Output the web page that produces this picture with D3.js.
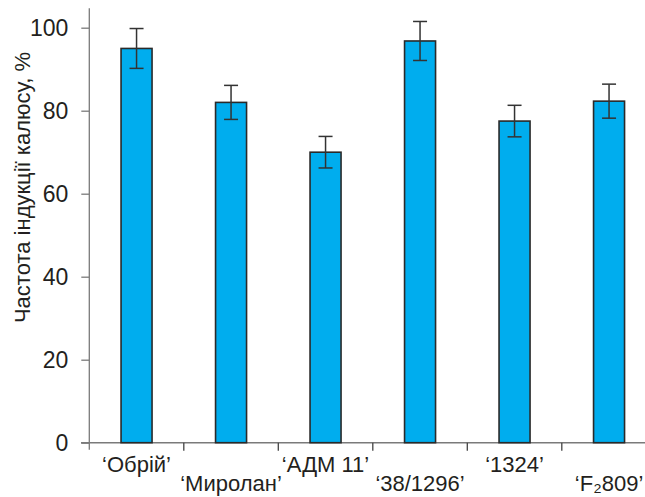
<!DOCTYPE html>
<html>
<head>
<meta charset="utf-8">
<script src="https://cdn.jsdelivr.net/npm/d3@7"></script>
<style>
html,body{margin:0;padding:0;background:#fff;}
text{font-family:"Liberation Sans",Arial,sans-serif;fill:#231f20;}
</style>
</head>
<body>
<svg id="chart" width="645" height="497"></svg>
<script>
const categories = ["‘Обрій’", "‘Миролан’", "‘АДМ 11’", "‘38/1296’", "‘1324’", "‘F₂809’"];
const values = [95, 82, 70, 96.8, 77.5, 82.3];
const errors = [4.8, 4.1, 3.8, 4.7, 3.8, 4.1];
const yTicks = [0, 20, 40, 60, 80, 100];
const yTitle = "Частота індукції калюсу, %";

const svg = d3.select("#chart");
const x = d3.scaleBand().domain(categories).range([89.3, 656.3]).padding(0);
const y = d3.scaleLinear().domain([0, 100]).range([442.7, 27.7]);
const barW = 31;
const axisColor = "#7a7a7a";

// y axis
const yAxis = svg.append("g").attr("transform", "translate(89.3,0)")
  .call(d3.axisLeft(y).tickValues(yTicks).tickSize(8).tickPadding(13).tickFormat(d3.format("d")));
yAxis.select(".domain").remove();
yAxis.selectAll(".tick line").attr("stroke", axisColor).attr("stroke-width", 1.3);
yAxis.selectAll(".tick text").attr("font-size", 23).attr("fill", "#231f20")
  .attr("font-family", "Liberation Sans, Arial, sans-serif").attr("dy", "0.36em");
svg.append("line").attr("x1", 89.3).attr("x2", 89.3)
  .attr("y1", y(0) + 7).attr("y2", y(104.7))
  .attr("stroke", axisColor).attr("stroke-width", 1.3);

// x axis
svg.append("line").attr("x1", 81).attr("x2", 645)
  .attr("y1", y(0)).attr("y2", y(0))
  .attr("stroke", axisColor).attr("stroke-width", 1.5);
svg.selectAll(".xtick").data(categories.slice(1)).enter().append("line")
  .attr("x1", d => x(d)).attr("x2", d => x(d))
  .attr("y1", y(0)).attr("y2", y(0) + 8)
  .attr("stroke", "#444").attr("stroke-width", 1.3);

// bars
svg.selectAll(".bar").data(categories).enter().append("rect")
  .attr("x", d => x(d) + x.bandwidth() / 2 - barW / 2)
  .attr("y", (d, i) => y(values[i]))
  .attr("width", barW)
  .attr("height", (d, i) => y(0) - y(values[i]))
  .attr("fill", "#00adee")
  .attr("stroke", "#2a2a2a").attr("stroke-width", 1.6);

// error bars
const eg = svg.selectAll(".err").data(categories).enter().append("g")
  .attr("stroke", "#333").attr("stroke-width", 1.5);
eg.append("line")
  .attr("x1", d => x(d) + x.bandwidth() / 2).attr("x2", d => x(d) + x.bandwidth() / 2)
  .attr("y1", (d, i) => y(values[i] + errors[i])).attr("y2", (d, i) => y(values[i] - errors[i]));
eg.append("line")
  .attr("x1", d => x(d) + x.bandwidth() / 2 - 7).attr("x2", d => x(d) + x.bandwidth() / 2 + 7)
  .attr("y1", (d, i) => y(values[i] + errors[i])).attr("y2", (d, i) => y(values[i] + errors[i]));
eg.append("line")
  .attr("x1", d => x(d) + x.bandwidth() / 2 - 7).attr("x2", d => x(d) + x.bandwidth() / 2 + 7)
  .attr("y1", (d, i) => y(values[i] - errors[i])).attr("y2", (d, i) => y(values[i] - errors[i]));

// x labels (staggered)
svg.selectAll(".xlab").data(categories).enter().append("text")
  .attr("x", d => x(d) + x.bandwidth() / 2)
  .attr("y", (d, i) => i % 2 === 0 ? 472 : 491)
  .attr("text-anchor", "middle")
  .attr("font-size", 22)
  .text(d => d);

// y title
svg.append("text")
  .attr("transform", "translate(30,187.5) rotate(-90)")
  .attr("text-anchor", "middle")
  .attr("font-size", 22)
  .text(yTitle);
</script>
</body>
</html>
